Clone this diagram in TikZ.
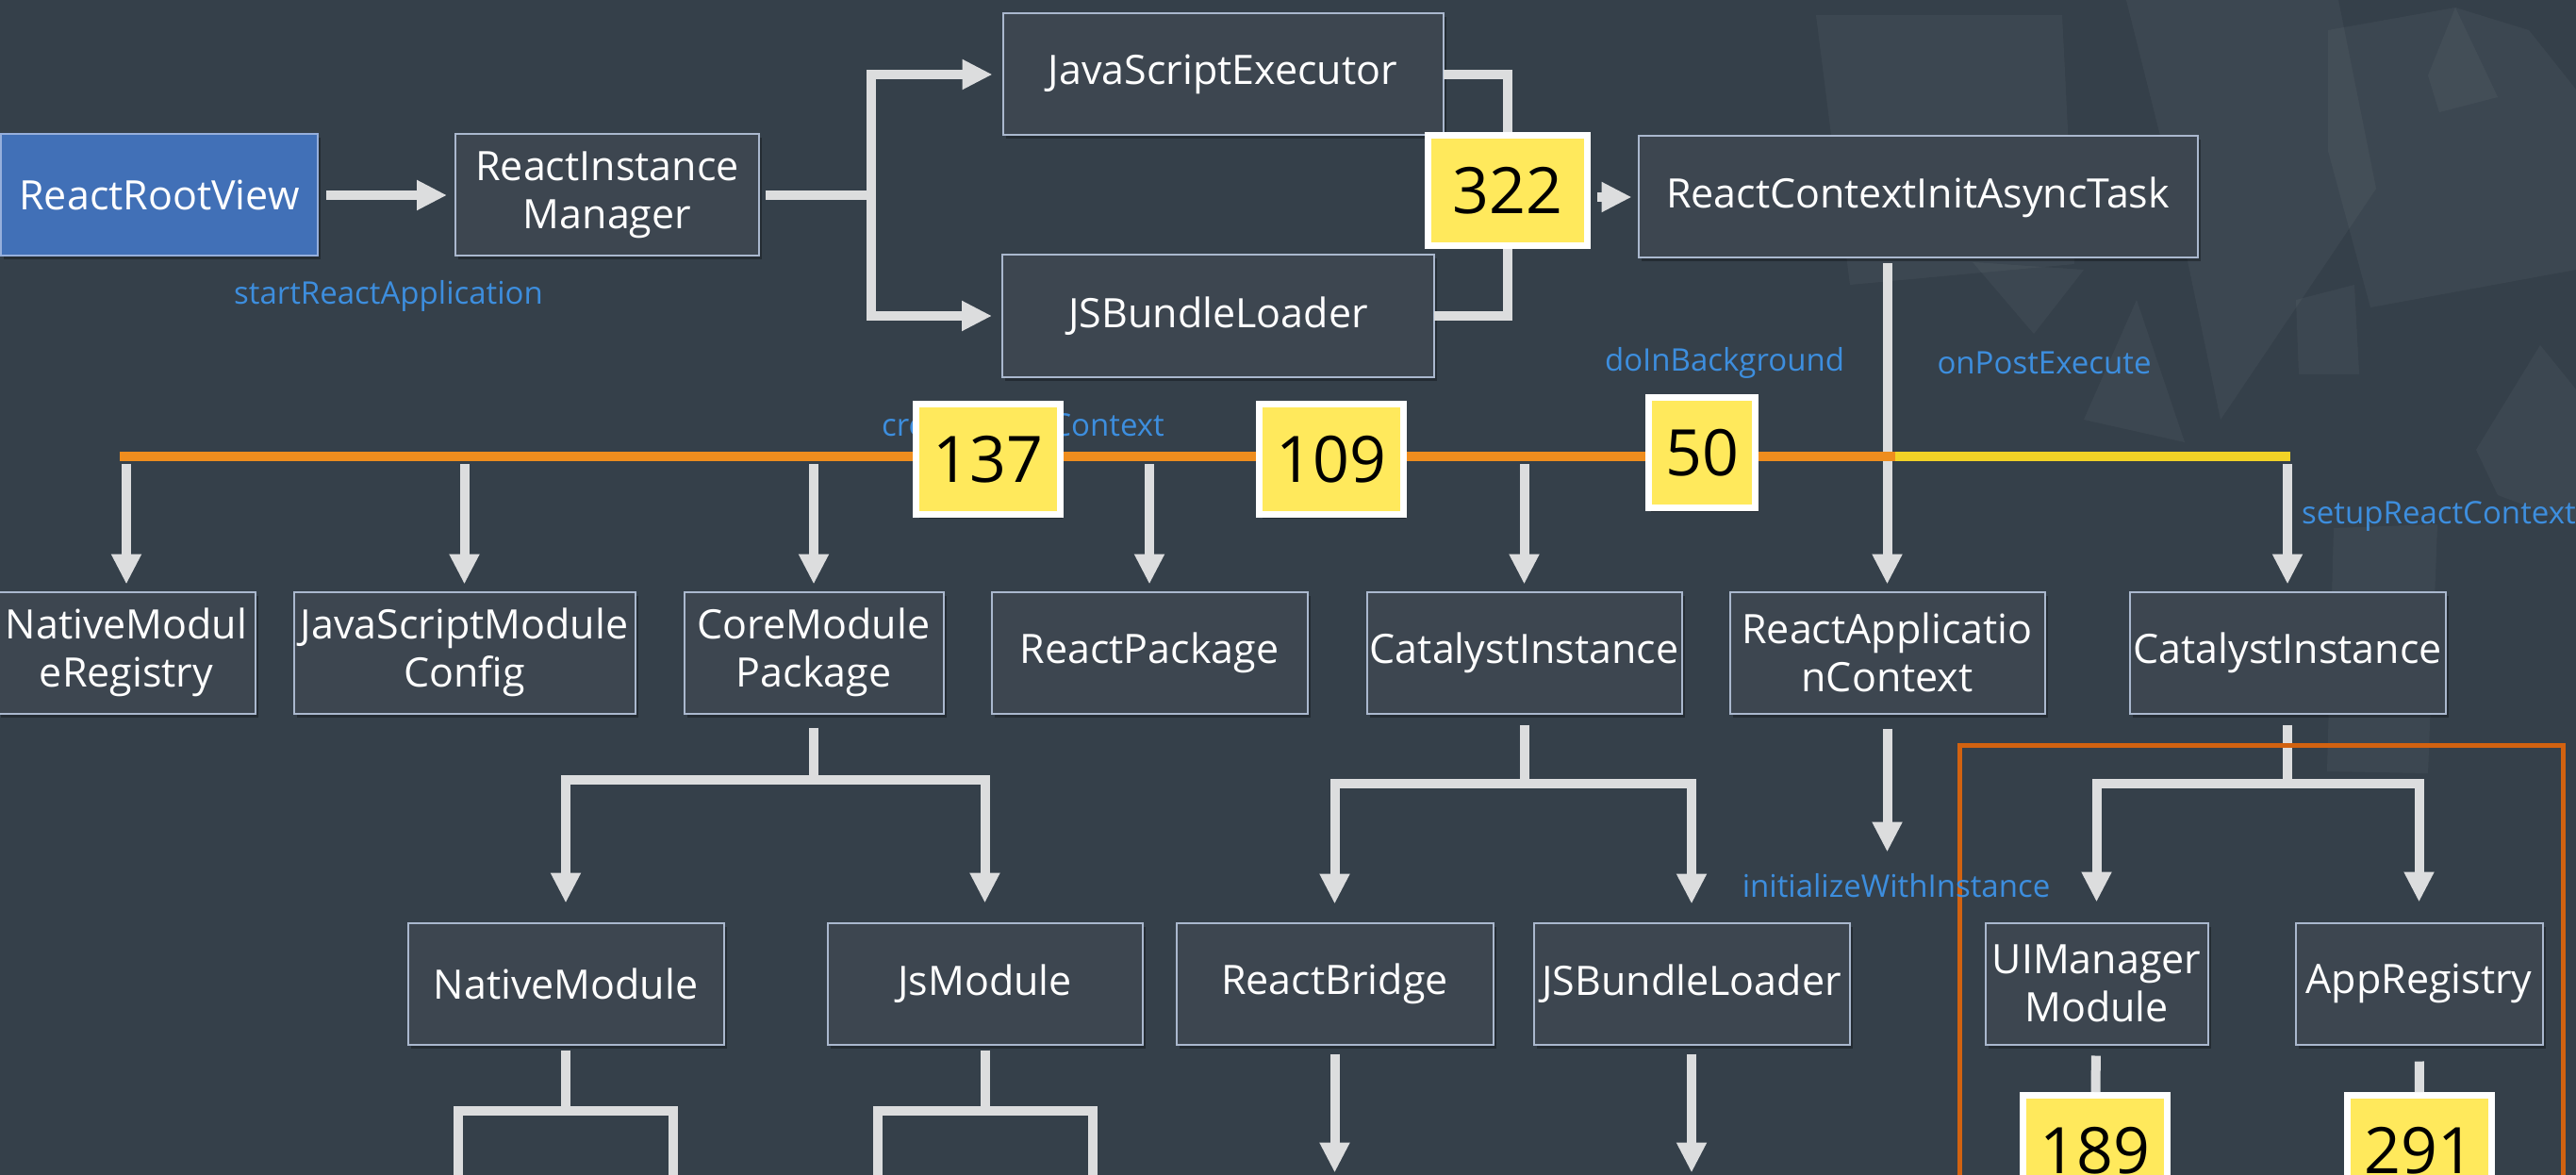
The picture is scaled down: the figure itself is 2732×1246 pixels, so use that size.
\documentclass[tikz,border=0pt]{standalone}
\usepackage{fontspec}
\setmainfont{Open Sans}
\usetikzlibrary{positioning, arrows.meta, shadows, calc}

\definecolor{bgcol}{RGB}{53,64,74}
\definecolor{boxfill}{RGB}{61,70,80}
\definecolor{boxline}{RGB}{170,184,206}
\definecolor{rootfill}{RGB}{65,112,183}
\definecolor{rootline}{RGB}{150,175,220}
\definecolor{linkcol}{RGB}{220,221,222}
\definecolor{busorange}{RGB}{239,141,30}
\definecolor{busyellow}{RGB}{242,210,38}
\definecolor{groupcol}{RGB}{210,98,16}
\definecolor{badgefill}{RGB}{255,233,92}
\definecolor{tagblue}{RGB}{61,142,222}

\newcommand\boxfont{\fontsize{43}{51}\selectfont}
\newcommand\tagfont{\fontsize{33}{38}\selectfont}
\newcommand\numfont{\fontsize{68}{72}\selectfont}

\tikzset{
	box/.style={draw=boxline, line width=2pt, fill=boxfill, text=white, font=\boxfont, align=center,
		minimum height=129pt, inner sep=3pt, outer sep=0pt,
		drop shadow={shadow xshift=3pt, shadow yshift=-4pt, opacity=0.3, fill=black}},
	badge/.style={draw=white, line width=7pt, fill=badgefill, text=black, font=\numfont,
		minimum height=117pt, inner xsep=18pt,
		drop shadow={shadow xshift=3pt, shadow yshift=-4pt, opacity=0.3, fill=black}},
	link/.style={draw=linkcol, line width=10pt},
	linkarr/.style={link, -{Triangle[width=30pt, length=32pt]}},
	bus/.style={line width=10pt, draw=busorange},
	tag/.style={text=tagblue, font=\tagfont, inner sep=0pt},
	shard/.style={fill=white, opacity=0.04},
}

\begin{document}
\begin{tikzpicture}[x=1pt, y=-1pt]
	\useasboundingbox (0,0) rectangle (2732,1246);
	\clip (0,0) rectangle (2732,1246);
	\fill[bgcol] (0,0) rectangle (2732,1246);
	
	% faint shards of the backdrop
	\fill[shard] (1926,16) -- (2187,16) -- (2200,280) -- (1962,302) -- cycle;
	\fill[shard] (2092,278) -- (2210,286) -- (2157,354) -- cycle;
	\fill[shard] (2255,0) -- (2480,0) -- (2520,200) -- (2355,445) -- (2300,180) -- cycle;
	\fill[shard] (2469,32) -- (2604,8) -- (2682,32) -- (2732,95) -- (2732,286) -- (2514,326) -- (2469,160) -- cycle;
	\fill[shard] (2575,80) -- (2604,8) -- (2649,103) -- (2587,119) -- cycle;
	\fill[shard] (2626,477) -- (2694,366) -- (2732,413) -- (2732,556) -- (2649,525) -- cycle;
	\fill[shard] (2210,445) -- (2266,318) -- (2317,469) -- cycle;
	\fill[shard] (2435,318) -- (2497,302) -- (2502,397) -- (2438,397) -- cycle;
	\fill[shard] (2475,560) -- (2585,556) -- (2575,820) -- (2468,818) -- cycle;
	
	\node[box, fill=rootfill, draw=rootline, minimum width=336pt] (rootView) at (169,207) {ReactRootView};
	\node[box, minimum width=322pt, right=146pt of rootView] (instMgr) {ReactInstance\\Manager};
	\node[box, minimum width=467pt] (jsExec) at (1297,79) {JavaScriptExecutor};
	\node[box, minimum width=458pt] (bundleTop) at (1292,335) {JSBundleLoader};
	\node[badge, minimum width=169pt] (n322) at (1599,202) {322};
	\node[box, minimum width=593pt] (asyncTask) at (2034,209) {ReactContextInitAsyncTask};
	
	\node[box, minimum width=273pt] (modReg) at (134,692) {NativeModul\\eRegistry};
	\node[box, minimum width=362pt, right=41pt of modReg] (jsModCfg) {JavaScriptModule\\Config};
	\node[box, minimum width=275pt, right=52pt of jsModCfg] (corePkg) {CoreModule\\Package};
	\node[box, minimum width=335pt, right=51pt of corePkg] (reactPkg) {ReactPackage};
	\node[box, minimum width=334pt, right=63pt of reactPkg] (catInst) {CatalystInstance};
	\node[box, minimum width=334pt, right=51pt of catInst] (appCtx) {ReactApplicatio\\nContext};
	\node[box, minimum width=335pt, right=90pt of appCtx] (catInst2) {CatalystInstance};
	
	\node[box, minimum width=335pt] (natMod) at (600,1043) {NativeModule};
	\node[box, minimum width=334pt, right=110pt of natMod] (jsMod) {JsModule};
	\node[box, minimum width=336pt, right=36pt of jsMod] (bridge) {ReactBridge};
	\node[box, minimum width=335pt, right=43pt of bridge] (bundleLow) {JSBundleLoader};
	\node[box, minimum width=236pt, right=144pt of bundleLow] (uiMgr) {UIManager\\Module};
	\node[box, minimum width=262pt, right=93pt of uiMgr] (appReg) {AppRegistry};
	
	\node[badge] (n189) at (2222,1220) {189};
	\node[badge] (n291) at (2566,1220) {291};
	
	\coordinate (fork) at (924,207);
	\coordinate (busW) at (127,484);
	\coordinate (busMid) at (2010,484);
	\coordinate (busE) at (2429,484);
	\path (corePkg.south) ++(0,70) coordinate (coreFork);
	\path (catInst.south) ++(0,74) coordinate (catFork);
	\path (catInst2.south) ++(0,74) coordinate (uiFork);
	\path (natMod.south) ++(0,70) coordinate (natFork) ++(-114,130) coordinate (natL) ++(228,0) coordinate (natR);
	\path (jsMod.south) ++(0,70) coordinate (jsFork) ++(-114,130) coordinate (jsL) ++(228,0) coordinate (jsR);
	\path (appCtx.south) ++(0,147) coordinate (initEnd);
	\path (bridge.south) ++(0,136) coordinate (bridgeEnd);
	\path (bundleLow.south) ++(0,136) coordinate (bundleEnd);
	
	\draw[linkarr, shorten <=9pt, shorten >=9pt] (rootView) -- (instMgr);
	\draw[link, shorten <=7pt] (instMgr) -- (fork);
	\draw[linkarr, shorten >=11pt] (fork) |- (jsExec);
	\draw[linkarr, shorten >=11pt] (fork) |- (bundleTop);
	\draw[link] (jsExec) -| (n322);
	\draw[link] (bundleTop) -| (n322);
	\draw[linkarr, shorten <=7pt, shorten >=7pt] (n322.east |- asyncTask) -- (asyncTask);
	
	\draw[linkarr, shorten <=6pt, shorten >=8pt] (asyncTask.south -| appCtx) -- (appCtx);
	\draw[bus] (busW) -- (busMid);
	\draw[bus, draw=busyellow] (busMid) -- (busE);
	\foreach \dst in {modReg, jsModCfg, corePkg, reactPkg, catInst, catInst2}
		\draw[linkarr, shorten <=8pt, shorten >=8pt] (busW -| \dst) -- (\dst);
	
	\draw[link, shorten <=15pt] (corePkg) -- (coreFork);
	\draw[linkarr, shorten >=21pt] (coreFork) -| (natMod);
	\draw[linkarr, shorten >=21pt] (coreFork) -| (jsMod);
	\draw[link, shorten <=12pt] (catInst) -- (catFork);
	\draw[linkarr, shorten >=20pt] (catFork) -| (bridge);
	\draw[linkarr, shorten >=20pt] (catFork) -| (bundleLow);
	\draw[link, shorten <=12pt] (catInst2) -- (uiFork);
	\draw[linkarr, shorten >=22pt] (uiFork) -| (uiMgr);
	\draw[linkarr, shorten >=22pt] (uiFork) -| (appReg);
	\draw[linkarr, shorten <=16pt] (appCtx) -- (initEnd);
	
	\draw[link, shorten <=6pt] (natMod) -- (natFork);
	\draw[link] (natFork) -| (natL);
	\draw[link] (natFork) -| (natR);
	\draw[link, shorten <=6pt] (jsMod) -- (jsFork);
	\draw[link] (jsFork) -| (jsL);
	\draw[link] (jsFork) -| (jsR);
	\draw[linkarr, shorten <=10pt] (bridge) -- (bridgeEnd);
	\draw[linkarr, shorten <=10pt] (bundleLow) -- (bundleEnd);
	\draw[link, shorten <=12pt] (uiMgr) -- (n189);
	\draw[link, shorten <=18pt] (appReg) -- (n291);
	
	\draw[draw=groupcol, line width=5pt] (2078,790) rectangle (2718,1320);
	
	\node[tag] (lblStart) at (412,314) {startReactApplication};
	\node[tag] (lblCreate) at (1085,451) {createReactContext};
	\node[tag] (lblBg) at (1829,385) {doInBackground};
	\node[tag] (lblPost) at (2168,385) {onPostExecute};
	\node[tag, anchor=west] (lblSetup) at (2441,548) {setupReactContext};
	\node[tag] (lblInit) at (2011,939) {initializeWithInstance};
	
	\node[badge] (n137) at (1048,487) {137};
	\node[badge] (n109) at (1412,487) {109};
	\node[badge] (n50) at (1805,480) {50};
\end{tikzpicture}
\end{document}
